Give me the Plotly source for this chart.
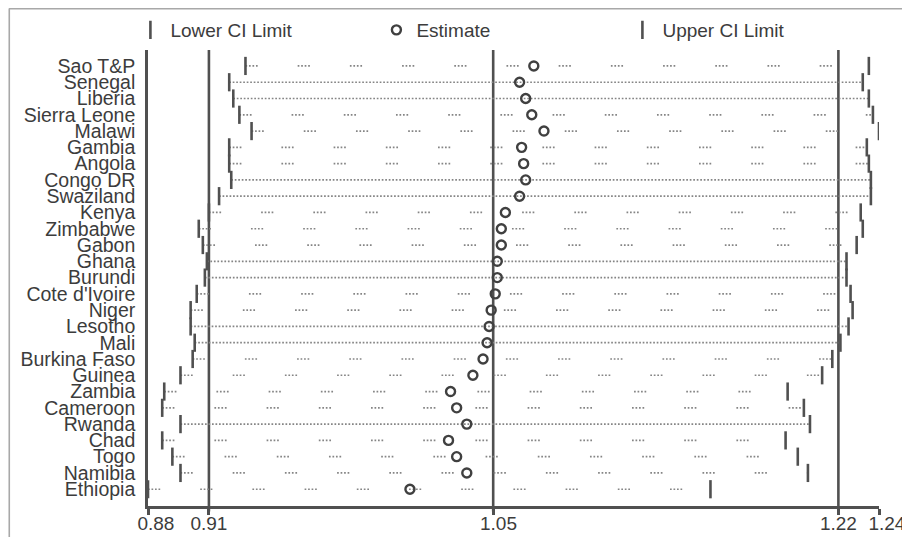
import plotly.graph_objects as go

countries = ["Sao T&P", "Senegal", "Liberia", "Sierra Leone", "Malawi", "Gambia",
             "Angola", "Congo DR", "Swaziland", "Kenya", "Zimbabwe", "Gabon", "Ghana",
             "Burundi", "Cote d'Ivoire", "Niger", "Lesotho", "Mali", "Burkina Faso",
             "Guinea", "Zambia", "Cameroon", "Rwanda", "Chad", "Togo", "Namibia", "Ethiopia"]
lower = [0.928, 0.920, 0.922, 0.925, 0.931, 0.920, 0.920, 0.921, 0.915, 0.910, 0.905,
         0.907, 0.909, 0.908, 0.904, 0.901, 0.901, 0.903, 0.902, 0.896, 0.888, 0.887,
         0.896, 0.887, 0.892, 0.896, 0.880]
estimate = [1.070, 1.063, 1.066, 1.069, 1.075, 1.064, 1.065, 1.066, 1.063, 1.056, 1.054,
            1.054, 1.052, 1.052, 1.051, 1.049, 1.048, 1.047, 1.045, 1.040, 1.029, 1.032,
            1.037, 1.028, 1.032, 1.037, 1.009]
upper = [1.235, 1.232, 1.235, 1.237, 1.240, 1.234, 1.235, 1.236, 1.236, 1.231, 1.232,
         1.229, 1.224, 1.224, 1.226, 1.227, 1.225, 1.221, 1.217, 1.212, 1.195, 1.203,
         1.206, 1.194, 1.200, 1.205, 1.157]
tick_vals = [0.88, 0.91, 1.05, 1.22, 1.24]
tick_labels = ["0.88", "0.91", "1.05", "1.22", "1.24"]
ref_lines = [0.91, 1.05, 1.22]

# line style per row (dense dotted vs sparse dotted), purely visual
dense_rows = {"Senegal", "Liberia", "Congo DR", "Swaziland", "Ghana", "Burundi",
              "Lesotho", "Mali", "Rwanda"}

DARK = "#505050"
DOT = "#858585"
TXT = "#3c3c3c"
FONT = "Liberation Sans, Arial, sans-serif"

fig = go.Figure()

dense_x, dense_y, sparse_x, sparse_y = [], [], [], []
for c, lo, hi in zip(countries, lower, upper):
    if c in dense_rows:
        dense_x += [lo, hi, None]
        dense_y += [c, c, None]
    else:
        sparse_x += [lo, hi, None]
        sparse_y += [c, c, None]

fig.add_trace(go.Scatter(x=dense_x, y=dense_y, mode="lines", showlegend=False,
                         hoverinfo="skip",
                         line=dict(color=DOT, width=1.7, dash="1.7px,1.8px")))
fig.add_trace(go.Scatter(x=sparse_x, y=sparse_y, mode="lines", showlegend=False,
                         hoverinfo="skip",
                         line=dict(color=DOT, width=1.7,
                                   dash="1.7px,1.8px,1.7px,1.8px,1.7px,1.8px,1.7px,40px")))

fig.add_trace(go.Scatter(x=lower, y=countries, mode="markers", name="Lower CI Limit",
                         marker=dict(symbol="line-ns-open", size=13,
                                     line=dict(color=DARK, width=2.6), color=DARK)))
fig.add_trace(go.Scatter(x=estimate, y=countries, mode="markers", name="Estimate",
                         marker=dict(symbol="circle-open", size=9,
                                     line=dict(color="#404040", width=2.4), color="#404040")))
fig.add_trace(go.Scatter(x=upper, y=countries, mode="markers", name="Upper CI Limit",
                         marker=dict(symbol="line-ns-open", size=13,
                                     line=dict(color=DARK, width=2.6), color=DARK)))

# The page body has an 8px margin: the figure is sized so that page pixels match.
OFF = 8
W, H = 910 - OFF, 537 - OFF
px_l, px_w, px_t, px_h = 147.6, 731.4, 50.0, 456.0   # plot area in page pixels
def pxx(p):
    return (p - px_l) / px_w
def pxy(p):
    return (px_t + px_h - p) / px_h

shapes = []
for v in ref_lines:
    shapes.append(dict(type="line", xref="x", yref="paper", x0=v, x1=v, y0=-0.012, y1=1,
                       line=dict(color=DARK, width=2.6), layer="below"))
# outer picture frame (top and left edges)
shapes.append(dict(type="line", xref="paper", yref="paper", x0=pxx(8.5), x1=pxx(912),
                   y0=pxy(8.8), y1=pxy(8.8), line=dict(color="#a8a8a8", width=1.6)))
shapes.append(dict(type="line", xref="paper", yref="paper", x0=pxx(8.8), x1=pxx(8.8),
                   y0=pxy(8.5), y1=pxy(540), line=dict(color="#a8a8a8", width=1.6)))

# small horizontal nudges of x tick labels (non-breaking spaces)
NB = "\u00a0"
pads = {"0.88": 3, "1.05": 2, "1.24": 3}
tick_text = [NB * pads.get(t, 0) + t for t in tick_labels]

fig.update_layout(
    width=W, height=H,
    margin=dict(l=px_l - OFF, r=W - (px_l + px_w - OFF), t=px_t - OFF,
                b=H - (px_t + px_h - OFF), autoexpand=False),
    paper_bgcolor="white", plot_bgcolor="white",
    font=dict(family=FONT, size=19, color=TXT),
    shapes=shapes,
    showlegend=True,
    legend=dict(orientation="h", x=pxx(130), xanchor="left", y=pxy(30), yanchor="middle",
                entrywidth=201, entrywidthmode="pixels",
                font=dict(family=FONT, size=19, color=TXT),
                bgcolor="rgba(0,0,0,0)", itemclick=False, itemdoubleclick=False),
    xaxis=dict(range=[0.88, 1.24], showgrid=False, zeroline=False, showline=True,
               linecolor=DARK, linewidth=2.6, ticks="outside", ticklen=6, tickwidth=2.6,
               tickcolor=DARK, tickmode="array", tickvals=tick_vals, ticktext=tick_text,
               tickangle=0, ticklabelstandoff=-8,
               tickfont=dict(size=19, color=TXT), automargin=False),
    yaxis=dict(type="category", categoryorder="array", categoryarray=countries,
               range=[27.03, -0.98], showgrid=False, zeroline=False, showline=True,
               linecolor=DARK, linewidth=2.6, ticks="", tickmode="linear", tick0=0, dtick=1,
               ticklabelstandoff=6,
               tickfont=dict(size=19.5, color=TXT), automargin=False),
)

fig.write_html("out.html")
